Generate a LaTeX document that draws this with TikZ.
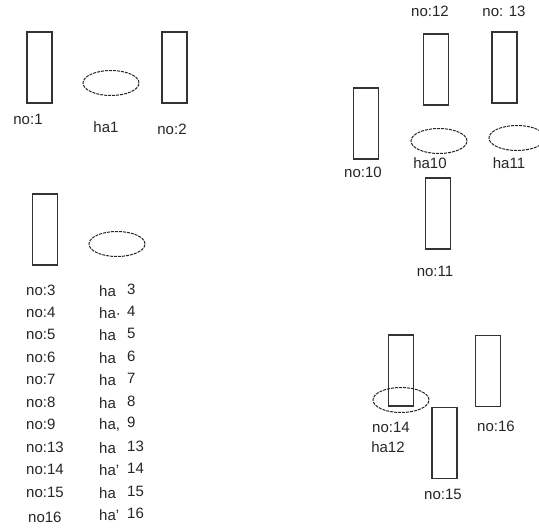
\documentclass[tikz,border=0pt]{standalone}
\usepackage{fontspec}
\setmainfont{Liberation Sans}
\usetikzlibrary{shapes.geometric}

\newcommand{\halabel}[2][]{\makebox[28pt][l]{ha#1}\raisebox{2pt}{#2}}

\begin{document}
\begin{tikzpicture}[x=1pt,y=-1pt,
		font=\fontsize{15}{18}\selectfont,
		no node/.style={rectangle,draw=black!80,line width=1.1pt,minimum width=25pt,minimum height=71pt,inner sep=0pt},
		ha node/.style={ellipse,draw=black!85,line width=1pt,dash pattern=on 3pt off 1pt,minimum width=56pt,minimum height=25pt,inner sep=0pt},
		txt/.style={text=black!85,inner sep=0pt}]

		\clip (0,0) rectangle (539,530);
		\fill[white] (0,0) rectangle (539,530);

		% top left
		\node[no node] (no1) at (39.5,67.5) {};
		\node[ha node] (ha1) at (111,83) {};
		\node[no node] (no2) at (174.5,67.5) {};
		\node[txt] (tno1) at (28,119) {no:1};
		\node[txt] (tha1) at (106,127) {ha1};
		\node[txt] (tno2) at (172,129) {no:2};

		% top right
		\node[txt] (tno12) at (430,11) {no:12};
		\node[txt] (tno13) at (504,11) {no: 13};
		\node[no node] (no12) at (436,69.5) {};
		\node[no node] (no13) at (504.5,67.5) {};
		\node[no node] (no10) at (366,123.5) {};
		\node[txt] (tno10) at (363,172) {no:10};
		\node[ha node] (ha10) at (439,141) {};
		\node[ha node] (ha11) at (517,138) {};
		\node[txt] (tha10) at (430,163) {ha10};
		\node[txt] (tha11) at (509,163) {ha11};
		\node[no node] (no11) at (438,213.5) {};
		\node[txt] (tno11) at (435,271) {no:11};

		% left list
		\node[no node] (no3) at (45,229.5) {};
		\node[ha node] (ha3) at (117,244) {};
		\node[txt,anchor=west] (tno3) at (26,290) {no:3};
		\node[txt,anchor=west] (tno4) at (26,312) {no:4};
		\node[txt,anchor=west] (tno5) at (26,334) {no:5};
		\node[txt,anchor=west] (tno6) at (26,357) {no:6};
		\node[txt,anchor=west] (tno7) at (26,379) {no:7};
		\node[txt,anchor=west] (tno8) at (26,402) {no:8};
		\node[txt,anchor=west] (tno9) at (26,424) {no:9};
		\node[txt,anchor=west] (tno13b) at (26,447) {no:13};
		\node[txt,anchor=west] (tno14b) at (26,469) {no:14};
		\node[txt,anchor=west] (tno15b) at (26,492) {no:15};
		\node[txt,anchor=west] (tno16b) at (28,517) {no16};
		\node[txt,anchor=west] (tha3) at (99,290) {\halabel{3}};
		\node[txt,anchor=west] (tha4) at (99,312) {\halabel[·]{4}};
		\node[txt,anchor=west] (tha5) at (99,334) {\halabel{5}};
		\node[txt,anchor=west] (tha6) at (99,357) {\halabel{6}};
		\node[txt,anchor=west] (tha7) at (99,379) {\halabel{7}};
		\node[txt,anchor=west] (tha8) at (99,402) {\halabel{8}};
		\node[txt,anchor=west] (tha9) at (99,424) {\halabel[,]{9}};
		\node[txt,anchor=west] (tha13) at (99,447) {\halabel{13}};
		\node[txt,anchor=west] (tha14) at (99,469) {\halabel[']{14}};
		\node[txt,anchor=west] (tha15) at (99,492) {\halabel{15}};
		\node[txt,anchor=west] (tha16) at (99,514) {\halabel[']{16}};

		% bottom right
		\node[no node] (no14) at (401,370.5) {};
		\node[ha node] (ha12) at (401,400) {};
		\node[no node] (no16) at (488,371) {};
		\node[no node] (no15) at (444.5,443) {};
		\node[txt] (tno14) at (391,427) {no:14};
		\node[txt] (tha12) at (388,447) {ha12};
		\node[txt] (tno16) at (496,426) {no:16};
		\node[txt] (tno15) at (443,494) {no:15};
		\end{tikzpicture}
\end{document}
